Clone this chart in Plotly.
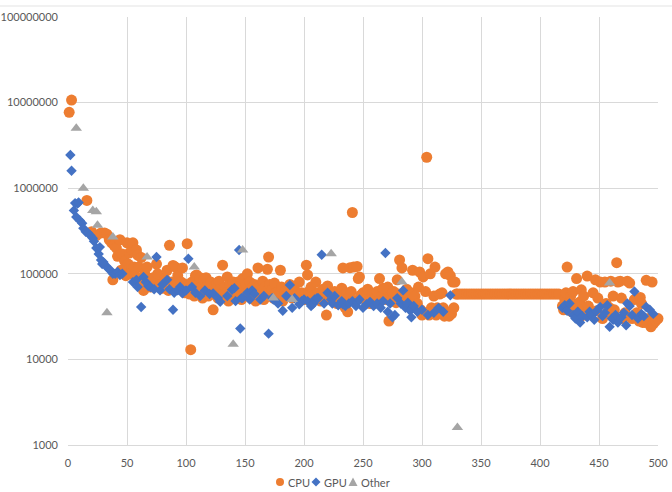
import plotly.graph_objects as go

# ---------------- data ----------------
cpu_x = [1, 3, 16,
         20, 24, 28, 31, 33, 35, 37, 39, 41, 42, 44, 46, 47, 48, 50, 51, 52, 53, 54, 55, 56, 57, 58, 59, 60,
         38, 45, 49,
         61, 62, 63, 64, 65, 66, 67, 68, 70, 72, 74, 75, 76, 78, 80, 82, 84, 85, 86, 88, 89, 90, 91, 93, 95,
         96, 97, 99, 100, 101, 102, 103, 104, 105, 106, 107, 108, 109, 110, 111, 112, 113, 114, 115, 116, 117,
         118, 119, 120, 121, 122, 123, 124, 125, 126, 127, 128, 129, 130,
         131, 133, 134, 135, 136, 137, 138, 139, 140, 141, 142, 143, 144, 145, 146, 147, 148, 149, 150, 151,
         152, 153, 154, 155, 156, 157, 158, 159, 160, 161, 162, 163, 164, 165, 166, 167, 168, 169, 170, 171,
         172, 173, 174, 175, 176, 178, 180, 181, 182, 184, 186, 188, 190, 192, 194, 196, 198, 200,
         202, 203, 204, 206, 208, 210, 212, 214, 216, 218, 219, 220, 222, 224, 226, 228, 230, 232, 233, 235,
         236, 237, 238, 239, 240, 241, 242, 243, 245, 246, 247, 248, 250, 252, 254, 256, 258, 260, 262, 263,
         264, 266, 268, 270, 271, 272, 274, 276, 278, 280, 281, 283, 285, 287, 289, 291, 292, 294, 296, 297,
         298, 299, 300, 301, 302, 303, 304, 305, 306, 307, 308, 309, 310, 311, 312, 313, 315, 316, 318, 319,
         320, 321, 322, 323, 324, 325, 326, 327, 328, 329, 279, 267, 275, 317,
         330, 332, 334, 336, 338, 340, 342, 344, 346, 348, 350, 352, 354, 356, 358, 360, 362, 364, 366, 368,
         370, 372, 374, 376, 378, 380, 382, 384, 386, 388, 390, 392, 394, 396, 398, 400, 402, 404, 406, 408,
         410, 412, 414, 416,
         419, 420, 421, 422, 423, 424, 426, 427, 428, 429, 431, 432, 433, 434, 435, 436, 437, 438, 440, 441,
         443, 445, 447, 448, 449, 451, 453, 455, 456, 457, 459, 460, 462, 463, 465, 466, 468, 469, 470, 472,
         474, 476, 478, 480, 482, 484, 485, 486, 487, 489, 490, 492, 494, 495, 496, 498, 500]
cpu_y = [7700000, 10700000, 720000,
         310000, 280000, 300000, 300000, 290000, 250000, 230000, 215000, 200000, 160000, 250000, 170000, 110000, 140000, 230000, 130000, 175000, 100000, 190000, 230000, 120000, 95000, 190000, 165000, 120000,
         85000, 110000, 95000,
         78000, 155000, 78000, 64000, 100000, 72000, 120000, 85000, 70000, 90000, 80000, 130000, 100000, 75000, 68000, 88000, 110000, 64000, 215000, 80000, 125000, 72000, 120000, 95000, 68000,
         80000, 117000, 60000, 75000, 225000, 70000, 58000, 13000, 80000, 65000, 55000, 95000, 97000, 60000, 75000, 90000, 70000, 52000, 85000, 62000, 90000,
         72000, 55000, 65000, 80000, 58000, 38000, 70000, 60000, 75000, 52000, 82000, 66000, 56000,
         126000, 70000, 60000, 92000, 48000, 75000, 65000, 55000, 80000, 62000, 70000, 52000, 80000, 60000, 72000, 50000, 88000, 66000, 56000, 75000,
         100000, 62000, 80000, 52000, 68000, 58000, 75000, 48000, 65000, 117000, 72000, 55000, 60000, 82000, 50000, 70000, 62000, 113000, 157000, 75000,
         58000, 66000, 52000, 78000, 60000, 55000, 110000, 70000, 48000, 62000, 58000, 75000, 52000, 66000, 56000, 80000, 60000, 50000,
         126000, 97000, 62000, 70000, 55000, 80000, 60000, 48000, 66000, 52000, 33000, 72000, 58000, 50000, 62000, 45000, 55000, 68000, 117000, 40000,
         60000, 36000, 52000, 118000, 62000, 520000, 120000, 48000, 122000, 88000, 92000, 56000, 60000, 50000, 66000, 45000, 58000, 52000, 62000, 48000,
         88000, 56000, 60000, 50000, 70000, 28000, 55000, 62000, 46000, 58000, 145000, 117000, 52000, 66000, 48000, 60000, 110000, 55000, 45000, 70000,
         105000, 38000, 33000, 92000, 35000, 62000, 2300000, 150000, 33000, 100000, 40000, 36000, 55000, 120000, 33000, 40000, 58000, 35000, 40000, 32000,
         100000, 36000, 105000, 32000, 95000, 34000, 80000, 40000, 80000, 58000, 85000, 68000, 60000, 60000,
         58000, 58000, 58000, 58000, 58000, 58000, 58000, 58000, 58000, 58000, 58000, 58000, 58000, 58000, 58000, 58000, 58000, 58000, 58000, 58000,
         58000, 58000, 58000, 58000, 58000, 58000, 58000, 58000, 58000, 58000, 58000, 58000, 58000, 58000, 58000, 58000, 58000, 58000, 58000, 58000,
         58000, 58000, 58000, 58000,
         42000, 38000, 50000, 60000, 120000, 45000, 55000, 36000, 62000, 40000, 88000, 45000, 30000, 47000, 65000, 38000, 55000, 33000, 94000, 42000,
         36000, 60000, 85000, 37000, 52000, 80000, 30000, 80000, 45000, 35000, 40000, 82000, 55000, 38000, 135000, 80000, 82000, 52000, 30000, 35000,
         82000, 78000, 30000, 50000, 35000, 28000, 53000, 45000, 27000, 27000, 84000, 30000, 24000, 80000, 26000, 28000, 30000]

gpu_x = [2, 3, 5, 6, 7, 8, 9, 10, 12, 13, 15, 17, 19, 21, 22, 24, 26, 27, 28, 29, 30, 32, 34, 36, 38, 40, 42, 44, 46,
         55, 58, 59, 62, 64, 66, 68, 70, 73, 75, 78, 80, 84, 86, 89, 90, 93, 95, 97, 100, 102, 105, 108, 112, 116,
         120, 123, 127, 129, 135, 139, 141, 142, 145, 146, 147, 148, 152, 154, 156, 158, 163, 166, 170, 173, 174,
         178, 182, 185, 188, 190, 192, 196, 198, 200, 203, 206, 208, 209, 211, 212, 215, 217, 220, 223, 224, 226,
         229, 232, 233, 235, 238, 241, 244, 245, 247, 250, 253, 256, 259, 262, 265, 267, 269, 271, 273, 275, 277,
         279, 282, 284, 286, 288, 290, 291, 293, 296, 300, 305, 310, 314, 318, 324,
         419, 421, 423, 425, 428, 430, 432, 434, 436, 440, 442, 444, 446, 448, 451, 453, 455, 457, 459, 461, 462,
         464, 466, 469, 471, 473, 474, 476, 478, 480, 483, 486, 488, 490, 493, 496]
gpu_y = [2440000, 1600000, 550000, 670000, 460000, 660000, 680000, 420000, 390000, 340000, 310000, 300000, 280000, 260000, 240000, 200000, 170000, 205000, 145000, 130000, 137000, 125000, 115000, 110000, 100000, 100000, 105000, 97000, 100000,
         80000, 85000, 70000, 41000, 92000, 80000, 72000, 70000, 66000, 157000, 64000, 75000, 85000, 66000, 38000, 60000, 64000, 70000, 59000, 64000, 150000, 70000, 60000, 55000, 64000,
         58000, 59000, 52000, 47000, 55000, 65000, 68000, 48000, 190000, 23000, 52000, 52000, 60000, 50000, 64000, 58000, 50000, 55000, 20000, 52000, 50000,
         45000, 37000, 55000, 74000, 40000, 52000, 44000, 48000, 50000, 48000, 42000, 45000, 50000, 52000, 52000, 167000, 45000, 60000, 50000, 45000, 55000,
         43000, 48000, 44000, 42000, 45000, 48000, 42000, 46000, 50000, 40000, 44000, 47000, 42000, 45000, 40000, 48000, 175000, 36000, 45000, 31000, 33000,
         52000, 45000, 64000, 40000, 46000, 37000, 31000, 42000, 36000, 38000, 33000, 35000, 40000, 36000, 56000,
         40000, 43000, 37000, 45000, 33000, 30000, 36000, 27000, 32000, 31000, 36000, 33000, 29000, 37000, 41000, 32000, 35000, 43000, 24000, 30000, 29000,
         33000, 27000, 31000, 35000, 25000, 45000, 42000, 33000, 62000, 30000, 34000, 32000, 41000, 38000, 34000]

other_x = [7, 13, 21, 24, 25, 33, 38, 67, 107, 140, 148, 174, 190, 223, 283, 330, 459]
other_y = [5000000, 1000000, 550000, 530000, 370000, 35000, 270000, 157000, 120000, 15000, 190000, 52000, 50000, 172000, 80000, 1600, 78000]

series_names = ["CPU", "GPU", "Other"]
series_colors = ["#ED7D31", "#4472C4", "#A5A5A5"]

y_ticks = [1000, 10000, 100000, 1000000, 10000000, 100000000]
y_tick_labels = ["1000", "10000", "100000", "1000000", "10000000", "100000000"]
x_ticks = [0, 50, 100, 150, 200, 250, 300, 350, 400, 450, 500]

# ---------------- figure ----------------
W, H = 672, 492
ML, MR, MT, MB = 68, 14, 17, 47
PW, PH = W - ML - MR, H - MT - MB


def px(xp):
    return (xp - ML) / PW


def py(yp):
    return (H - MB - yp) / PH


fig = go.Figure()
fig.add_trace(go.Scatter(x=cpu_x, y=cpu_y, mode="markers", name=series_names[0],
                         marker=dict(symbol="circle", size=11, color=series_colors[0]), cliponaxis=False))
fig.add_trace(go.Scatter(x=gpu_x, y=gpu_y, mode="markers", name=series_names[1],
                         marker=dict(symbol="diamond", size=8, color=series_colors[1]), cliponaxis=False))
fig.add_trace(go.Scatter(x=other_x, y=other_y, mode="markers", name=series_names[2],
                         marker=dict(symbol="triangle-up", size=10, color=series_colors[2]), cliponaxis=False))

font_family = "Lato, 'Open Sans', sans-serif"
fig.update_layout(
    width=W, height=H,
    margin=dict(l=ML, r=MR, t=MT, b=MB, autoexpand=False),
    paper_bgcolor="white", plot_bgcolor="white",
    font=dict(family=font_family, size=11, color="#595959"),
    showlegend=False,
    xaxis=dict(range=[0, 500], tickvals=x_ticks, showgrid=True, gridcolor="#D9D9D9", gridwidth=1,
               zeroline=False, showline=True, linecolor="#D9D9D9", ticks="", ticklabelstandoff=8,
               automargin=False),
    yaxis=dict(type="log", range=[3, 8], tickvals=y_ticks, ticktext=y_tick_labels, showgrid=True,
               gridcolor="#D9D9D9", gridwidth=1, zeroline=False, showline=False, ticks="",
               ticklabelstandoff=9, automargin=False),
)

# chart-area top border
fig.add_shape(type="line", xref="paper", yref="paper", x0=px(0), x1=px(W),
              y0=py(6), y1=py(6), line=dict(color="#E3E3E3", width=1))

# legend (drawn compactly, like the original)
leg_y = 482
r = 4
# circle
fig.add_shape(type="circle", xref="paper", yref="paper", x0=px(280 - r), x1=px(280 + r),
              y0=py(leg_y + r), y1=py(leg_y - r), fillcolor=series_colors[0], line=dict(width=0))
# diamond
cx = 316
fig.add_shape(type="path", xref="paper", yref="paper",
              path=f"M {px(cx - 4.5)},{py(leg_y)} L {px(cx)},{py(leg_y - 4.5)} L {px(cx + 4.5)},{py(leg_y)} "
                   f"L {px(cx)},{py(leg_y + 4.5)} Z",
              fillcolor=series_colors[1], line=dict(width=0))
# triangle
cx = 353
fig.add_shape(type="path", xref="paper", yref="paper",
              path=f"M {px(cx - 4.5)},{py(leg_y + 4)} L {px(cx)},{py(leg_y - 4.5)} L {px(cx + 4.5)},{py(leg_y + 4)} Z",
              fillcolor=series_colors[2], line=dict(width=0))
for name, xs in zip(series_names, [286, 322, 359]):
    fig.add_annotation(x=px(xs), y=py(leg_y), xref="paper", yref="paper", text=name, showarrow=False,
                       xanchor="left", yanchor="middle", font=dict(size=11, color="#595959"))

fig.write_html("out.html")
